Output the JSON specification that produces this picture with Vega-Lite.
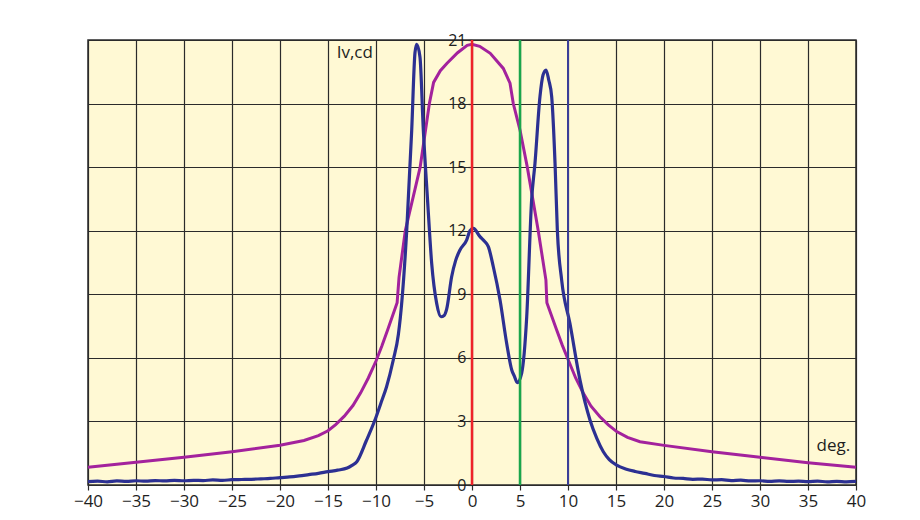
{
  "$schema": "https://vega.github.io/schema/vega-lite/v6.json",
  "width": 768,
  "height": 445,
  "autosize": {"type": "none"},
  "padding": {"left": 88, "top": 40, "right": 64, "bottom": 35},
  "background": "white",
  "config": {
    "view": {"fill": "#fff9d4", "stroke": "#2b2b2b", "strokeWidth": 1.5},
    "font": "Open Sans"
  },
  "datasets": {
    "purple": [
      {"deg": -40, "iv": 0.84},
      {"deg": -35, "iv": 1.07},
      {"deg": -30, "iv": 1.31},
      {"deg": -25, "iv": 1.57},
      {"deg": -20, "iv": 1.88},
      {"deg": -17.5, "iv": 2.1},
      {"deg": -16, "iv": 2.33},
      {"deg": -15, "iv": 2.56},
      {"deg": -14.2, "iv": 2.85},
      {"deg": -13.3, "iv": 3.25},
      {"deg": -12.4, "iv": 3.75},
      {"deg": -11.6, "iv": 4.35},
      {"deg": -10.8, "iv": 5.05},
      {"deg": -10, "iv": 5.85},
      {"deg": -9.4, "iv": 6.55},
      {"deg": -8.8, "iv": 7.3},
      {"deg": -7.8, "iv": 8.6},
      {"deg": -7.6, "iv": 9.8},
      {"deg": -6.95, "iv": 12},
      {"deg": -5.4, "iv": 15},
      {"deg": -4.44, "iv": 18},
      {"deg": -4.0, "iv": 19.0},
      {"deg": -3.3, "iv": 19.55},
      {"deg": -2.6, "iv": 19.9},
      {"deg": -1.5, "iv": 20.4},
      {"deg": -0.5, "iv": 20.75},
      {"deg": 0, "iv": 20.8},
      {"deg": 0.8, "iv": 20.7},
      {"deg": 1.9, "iv": 20.37},
      {"deg": 3.26, "iv": 19.66},
      {"deg": 3.96, "iv": 18.96},
      {"deg": 4.3, "iv": 18.0},
      {"deg": 5.0, "iv": 16.75},
      {"deg": 5.76, "iv": 15},
      {"deg": 6.9, "iv": 12},
      {"deg": 7.7, "iv": 9.67},
      {"deg": 7.8, "iv": 8.6},
      {"deg": 8.82, "iv": 7.31},
      {"deg": 9.4, "iv": 6.6},
      {"deg": 10.03, "iv": 5.9},
      {"deg": 10.8, "iv": 5.05},
      {"deg": 11.6, "iv": 4.33},
      {"deg": 12.4, "iv": 3.72},
      {"deg": 13.33, "iv": 3.22},
      {"deg": 14.2, "iv": 2.84},
      {"deg": 15.07, "iv": 2.52},
      {"deg": 16.2, "iv": 2.25},
      {"deg": 17.5, "iv": 2.04},
      {"deg": 20, "iv": 1.87},
      {"deg": 25, "iv": 1.57},
      {"deg": 30, "iv": 1.31},
      {"deg": 35, "iv": 1.05},
      {"deg": 40, "iv": 0.84}
    ],
    "blue": [
      {"deg": -40, "iv": 0.16},
      {"deg": -39, "iv": 0.18},
      {"deg": -38, "iv": 0.15},
      {"deg": -37, "iv": 0.19},
      {"deg": -36, "iv": 0.17},
      {"deg": -35, "iv": 0.2},
      {"deg": -34, "iv": 0.18},
      {"deg": -33, "iv": 0.21},
      {"deg": -32, "iv": 0.19},
      {"deg": -31, "iv": 0.22},
      {"deg": -30, "iv": 0.2},
      {"deg": -29, "iv": 0.22},
      {"deg": -28, "iv": 0.21},
      {"deg": -27, "iv": 0.24},
      {"deg": -26, "iv": 0.22},
      {"deg": -25, "iv": 0.25},
      {"deg": -24, "iv": 0.26},
      {"deg": -23, "iv": 0.27},
      {"deg": -22, "iv": 0.29},
      {"deg": -21, "iv": 0.31},
      {"deg": -20, "iv": 0.35},
      {"deg": -19, "iv": 0.38},
      {"deg": -18, "iv": 0.43},
      {"deg": -17, "iv": 0.49},
      {"deg": -16, "iv": 0.55},
      {"deg": -15, "iv": 0.63},
      {"deg": -14, "iv": 0.7},
      {"deg": -13, "iv": 0.8},
      {"deg": -12.5, "iv": 0.93},
      {"deg": -12, "iv": 1.1},
      {"deg": -11, "iv": 2.1},
      {"deg": -10, "iv": 3.2},
      {"deg": -9.5, "iv": 3.85},
      {"deg": -8.9, "iv": 4.64},
      {"deg": -8.2, "iv": 5.9},
      {"deg": -7.67, "iv": 7.1},
      {"deg": -7.3, "iv": 8.7},
      {"deg": -6.8, "iv": 12.0},
      {"deg": -6.28, "iv": 16.75},
      {"deg": -5.94, "iv": 20.4},
      {"deg": -5.76, "iv": 20.8},
      {"deg": -5.42, "iv": 20.2},
      {"deg": -5.07, "iv": 16.75},
      {"deg": -4.65, "iv": 13.6},
      {"deg": -4.2, "iv": 10.46},
      {"deg": -3.68, "iv": 8.57},
      {"deg": -3.23, "iv": 7.94},
      {"deg": -2.9, "iv": 8.0},
      {"deg": -2.64, "iv": 8.3},
      {"deg": -2.12, "iv": 9.83},
      {"deg": -1.7, "iv": 10.6},
      {"deg": -1.25, "iv": 11.09},
      {"deg": -0.56, "iv": 11.56},
      {"deg": -0.21, "iv": 12.0},
      {"deg": 0.14, "iv": 12.11},
      {"deg": 0.83, "iv": 11.72},
      {"deg": 1.3, "iv": 11.5},
      {"deg": 1.7, "iv": 11.25},
      {"deg": 2.22, "iv": 10.3},
      {"deg": 2.92, "iv": 8.73},
      {"deg": 3.61, "iv": 6.69},
      {"deg": 4.14, "iv": 5.43},
      {"deg": 4.4, "iv": 5.15},
      {"deg": 4.72, "iv": 4.83},
      {"deg": 5.17, "iv": 5.27},
      {"deg": 5.7, "iv": 7.94},
      {"deg": 6.21, "iv": 13.45},
      {"deg": 6.56, "iv": 15.18},
      {"deg": 7.08, "iv": 18.33},
      {"deg": 7.4, "iv": 19.35},
      {"deg": 7.71, "iv": 19.58},
      {"deg": 8.0, "iv": 19.1},
      {"deg": 8.3, "iv": 18.33},
      {"deg": 8.65, "iv": 15.18},
      {"deg": 8.89, "iv": 12.03},
      {"deg": 9.34, "iv": 9.67},
      {"deg": 10.2, "iv": 7.63},
      {"deg": 11.25, "iv": 4.95},
      {"deg": 12.29, "iv": 3.07},
      {"deg": 13.0, "iv": 2.2},
      {"deg": 13.68, "iv": 1.57},
      {"deg": 14.3, "iv": 1.2},
      {"deg": 15.07, "iv": 0.94},
      {"deg": 16, "iv": 0.76},
      {"deg": 17, "iv": 0.64},
      {"deg": 18, "iv": 0.55},
      {"deg": 19, "iv": 0.45},
      {"deg": 20, "iv": 0.4},
      {"deg": 21, "iv": 0.33},
      {"deg": 22, "iv": 0.31},
      {"deg": 23, "iv": 0.27},
      {"deg": 24, "iv": 0.28},
      {"deg": 25, "iv": 0.24},
      {"deg": 26, "iv": 0.25},
      {"deg": 27, "iv": 0.21},
      {"deg": 28, "iv": 0.23},
      {"deg": 29, "iv": 0.19},
      {"deg": 30, "iv": 0.2},
      {"deg": 31, "iv": 0.17},
      {"deg": 32, "iv": 0.19},
      {"deg": 33, "iv": 0.17},
      {"deg": 34, "iv": 0.18},
      {"deg": 35, "iv": 0.16},
      {"deg": 36, "iv": 0.18},
      {"deg": 37, "iv": 0.15},
      {"deg": 38, "iv": 0.17},
      {"deg": 39, "iv": 0.15},
      {"deg": 40, "iv": 0.17}
    ]
  },
  "layer": [
    {
      "data": {"name": "purple"},
      "mark": {"type": "line", "strokeWidth": 3, "interpolate": "linear", "color": "#a3229d"},
      "encoding": {
        "x": {
          "field": "deg", "type": "quantitative",
          "scale": {"domain": [-40, 40], "nice": false, "zero": false},
          "axis": {
            "values": [-40, -35, -30, -25, -20, -15, -10, -5, 0, 5, 10, 15, 20, 25, 30, 35, 40],
            "format": "d", "title": null, "grid": true, "gridColor": "#2b2b2b", "gridWidth": 1.2, "gridOpacity": 1,
            "domain": false, "ticks": true, "tickColor": "#2b2b2b", "tickSize": 5, "tickWidth": 1.2,
            "labelFontSize": 17, "labelColor": "#1e1e1e", "labelPadding": 3, "labelFlush": false, "labelOverlap": false
          }
        },
        "y": {
          "field": "iv", "type": "quantitative",
          "scale": {"domain": [0, 21], "nice": false},
          "axis": {
            "values": [0, 3, 6, 9, 12, 15, 18, 21],
            "title": null, "grid": true, "gridColor": "#2b2b2b", "gridWidth": 1.2, "gridOpacity": 1,
            "offset": -384, "domain": false, "ticks": true, "tickColor": "#2b2b2b", "tickSize": 4, "tickWidth": 1.2,
            "labelFontSize": 16, "labelColor": "#1e1e1e", "labelPadding": 2, "labelFlush": false, "labelOverlap": false
          }
        },
        "order": {"field": "deg", "type": "quantitative"}
      }
    },
    {
      "data": {"name": "blue"},
      "mark": {"type": "line", "strokeWidth": 3.2, "interpolate": "monotone", "color": "#2c3092"},
      "encoding": {
        "x": {"field": "deg", "type": "quantitative"},
        "y": {"field": "iv", "type": "quantitative"},
        "order": {"field": "deg", "type": "quantitative"}
      }
    },
    {
      "data": {"values": [{"deg": 0}]},
      "mark": {"type": "rule", "color": "#ee2229", "strokeWidth": 2.5},
      "encoding": {"x": {"field": "deg", "type": "quantitative"}}
    },
    {
      "data": {"values": [{"deg": 5}]},
      "mark": {"type": "rule", "color": "#1aa64b", "strokeWidth": 2.5},
      "encoding": {"x": {"field": "deg", "type": "quantitative"}}
    },
    {
      "data": {"values": [{"deg": 10}]},
      "mark": {"type": "rule", "color": "#3a3e98", "strokeWidth": 2},
      "encoding": {"x": {"field": "deg", "type": "quantitative"}}
    },
    {
      "data": {"values": [{"deg": -14.1, "iv": 20.39, "label": "Iv,cd"}]},
      "mark": {"type": "text", "align": "left", "baseline": "middle", "fontSize": 17, "color": "#1e1e1e"},
      "encoding": {
        "x": {"field": "deg", "type": "quantitative"},
        "y": {"field": "iv", "type": "quantitative"},
        "text": {"field": "label"}
      }
    },
    {
      "data": {"values": [{"deg": 39.4, "iv": 1.85, "label": "deg."}]},
      "mark": {"type": "text", "align": "right", "baseline": "middle", "fontSize": 17, "color": "#1e1e1e"},
      "encoding": {
        "x": {"field": "deg", "type": "quantitative"},
        "y": {"field": "iv", "type": "quantitative"},
        "text": {"field": "label"}
      }
    }
  ]
}
